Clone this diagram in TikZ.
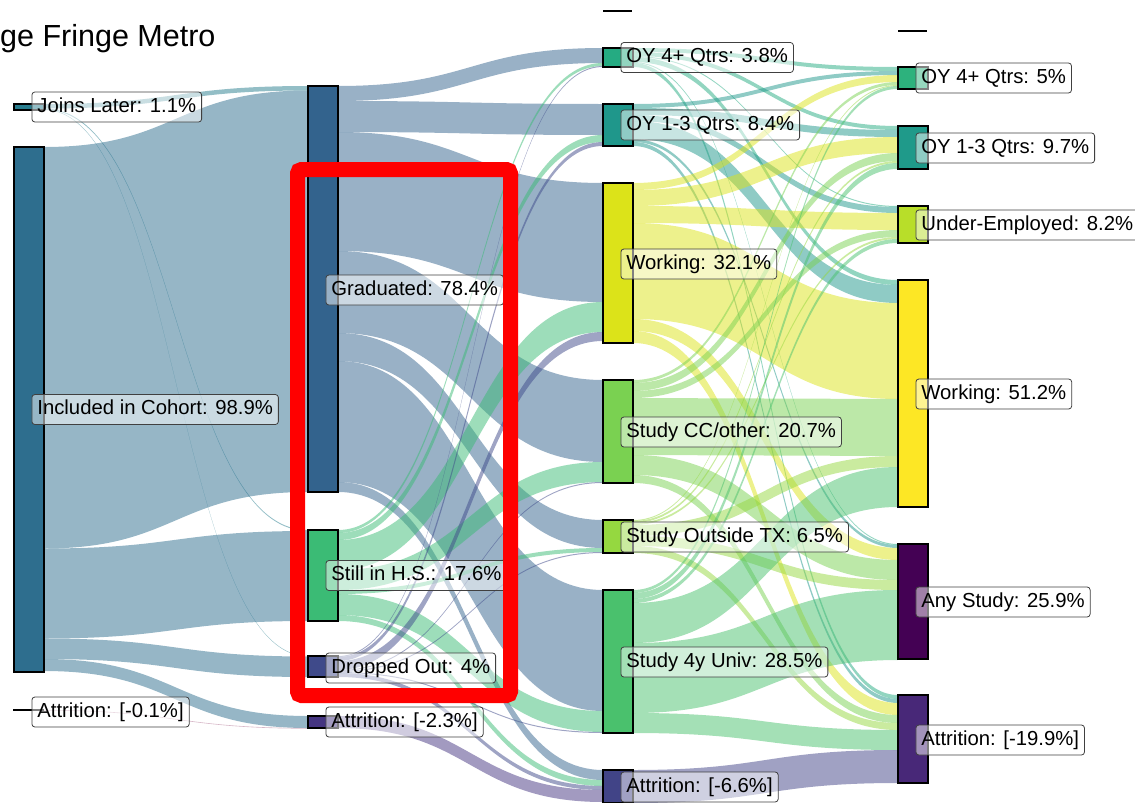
\documentclass[tikz,border=0pt]{standalone}
\usepackage{fontspec}
\setmainfont{Liberation Sans}
\definecolor{cJL}{HTML}{287D8E}
\definecolor{cINC}{HTML}{2E6E8E}
\definecolor{cGR}{HTML}{33638D}
\definecolor{cHS}{HTML}{3BBB75}
\definecolor{cDO}{HTML}{3F4A8A}
\definecolor{cATb}{HTML}{453581}
\definecolor{cOYa}{HTML}{25AB82}
\definecolor{cOYb}{HTML}{1F978B}
\definecolor{cWK}{HTML}{DCE319}
\definecolor{cCC}{HTML}{7AD151}
\definecolor{cOT}{HTML}{95D840}
\definecolor{cUV}{HTML}{4AC16D}
\definecolor{cATc}{HTML}{414487}
\definecolor{cOYc}{HTML}{2DB27D}
\definecolor{cOYd}{HTML}{1F9A8A}
\definecolor{cUE}{HTML}{B8DE29}
\definecolor{cWKd}{HTML}{FDE725}
\definecolor{cAS}{HTML}{440154}
\definecolor{cATd}{HTML}{482878}
\definecolor{cATa}{HTML}{B07090}
\newcommand\setnd[3]{%
  \expandafter\xdef\csname X#1\endcsname{#2}%
  \expandafter\xdef\csname O#1\endcsname{#3}%
  \expandafter\xdef\csname I#1\endcsname{#3}}
\newcommand\flw[4]{%
  \expandafter\let\expandafter\fya\csname O#1\endcsname
  \expandafter\let\expandafter\fyb\csname I#2\endcsname
  \expandafter\let\expandafter\fxa\csname X#1\endcsname
  \expandafter\let\expandafter\fxb\csname X#2\endcsname
  \pgfmathsetmacro\fxa{\fxa+30}%
  \pgfmathsetmacro\fxm{(\fxa+\fxb)/2}%
  \pgfmathsetmacro\fyc{\fya+#3}%
  \pgfmathsetmacro\fyd{\fyb+#3}%
  \fill[fill=#4, fill opacity=0.5] (\fxa,\fya) .. controls (\fxm,\fya) and (\fxm,\fyb) .. (\fxb,\fyb) -- (\fxb,\fyd) .. controls (\fxm,\fyd) and (\fxm,\fyc) .. (\fxa,\fyc) -- cycle;
  \expandafter\xdef\csname O#1\endcsname{\fyc}%
  \expandafter\xdef\csname I#2\endcsname{\fyd}}
\begin{document}
\begin{tikzpicture}[x=1pt,y=-1pt,
  bar/.style={draw=black, line width=1.5pt, minimum width=30pt, inner sep=0pt, outer sep=0pt, anchor=north west},
  zbar/.style={draw=black, line width=2.5pt},
  lab/.style={draw=black!75, line width=0.8pt, fill=white, fill opacity=0.5, draw opacity=1, text opacity=1, rounded corners=3pt,
    font=\fontsize{20.3}{21}\selectfont, text height=15pt, text depth=4.5pt, minimum height=30pt, inner xsep=5.5pt, inner ysep=0pt, anchor=west},
  hilite/.style={draw=red, line width=15pt, rounded corners=4pt}]
\useasboundingbox (0,0) rectangle (1135,803);
% node geometry
\setnd{JL}{14}{104}\setnd{INC}{14}{147}\setnd{ATa}{14}{710}
\setnd{GR}{308}{86}\setnd{HS}{308}{530}\setnd{DO}{308}{656}\setnd{ATb}{308}{716}
\setnd{OYa}{603}{48}\setnd{OYb}{603}{104}\setnd{WK}{603}{183}\setnd{CC}{603}{380}
\setnd{OT}{603}{520}\setnd{UV}{603}{590}\setnd{ATc}{603}{770}
\setnd{OYc}{898}{67}\setnd{OYd}{898}{126}\setnd{UE}{898}{206}\setnd{WKd}{898}{280}
\setnd{AS}{898}{544}\setnd{ATd}{898}{695}
% flows column 1 -> 2
\flw{JL}{GR}{4.5}{cJL}\flw{JL}{HS}{1}{cJL}\flw{JL}{DO}{0.5}{cJL}
\flw{INC}{GR}{401.5}{cINC}\flw{INC}{HS}{90}{cINC}\flw{INC}{DO}{20.5}{cINC}\flw{INC}{ATb}{12}{cINC}
\flw{ATa}{ATb}{0.6}{cATa}
% flows column 2 -> 3
\flw{GR}{OYa}{15}{cGR}\flw{GR}{OYb}{31}{cGR}\flw{GR}{WK}{119}{cGR}\flw{GR}{CC}{82}{cGR}
\flw{GR}{OT}{28}{cGR}\flw{GR}{UV}{121}{cGR}\flw{GR}{ATc}{10}{cGR}
\flw{HS}{OYa}{3}{cHS}\flw{HS}{OYb}{7}{cHS}\flw{HS}{WK}{30}{cHS}\flw{HS}{CC}{20}{cHS}
\flw{HS}{OT}{4}{cHS}\flw{HS}{UV}{21}{cHS}\flw{HS}{ATc}{6}{cHS}
\flw{DO}{OYa}{1}{cDO}\flw{DO}{OYb}{4}{cDO}\flw{DO}{WK}{9}{cDO}\flw{DO}{CC}{1}{cDO}
\flw{DO}{OT}{1}{cDO}\flw{DO}{UV}{1}{cDO}\flw{DO}{ATc}{4}{cDO}
\flw{ATb}{ATc}{12}{cATb}
% flows column 3 -> 4
\flw{OYa}{OYc}{4}{cOYa}\flw{OYa}{OYd}{4}{cOYa}\flw{OYa}{UE}{1}{cOYa}\flw{OYa}{WKd}{5}{cOYa}\flw{OYa}{AS}{1}{cOYa}\flw{OYa}{ATd}{4}{cOYa}
\flw{OYb}{OYc}{4}{cOYb}\flw{OYb}{OYd}{7}{cOYb}\flw{OYb}{UE}{6}{cOYb}\flw{OYb}{WKd}{18}{cOYb}\flw{OYb}{AS}{3}{cOYb}\flw{OYb}{ATd}{4}{cOYb}
\flw{WK}{OYc}{7}{cWK}\flw{WK}{OYd}{16}{cWK}\flw{WK}{UE}{17}{cWK}\flw{WK}{WKd}{96}{cWK}\flw{WK}{AS}{12}{cWK}\flw{WK}{ATd}{12}{cWK}
\flw{CC}{OYc}{3}{cCC}\flw{CC}{OYd}{8}{cCC}\flw{CC}{UE}{7}{cCC}\flw{CC}{WKd}{57}{cCC}\flw{CC}{AS}{20}{cCC}\flw{CC}{ATd}{8}{cCC}
\flw{OT}{OYc}{1}{cOT}\flw{OT}{OYd}{2}{cOT}\flw{OT}{UE}{2}{cOT}\flw{OT}{WKd}{11}{cOT}\flw{OT}{AS}{10}{cOT}\flw{OT}{ATd}{7}{cOT}
\flw{UV}{OYc}{3}{cUV}\flw{UV}{OYd}{6}{cUV}\flw{UV}{UE}{4}{cUV}\flw{UV}{WKd}{40}{cUV}\flw{UV}{AS}{70}{cUV}\flw{UV}{ATd}{20}{cUV}
\flw{ATc}{ATd}{33}{cATc}
% bars
\node[bar, fill=cJL, minimum height=6pt] (JL) at (14,104) {};
\node[bar, fill=cINC, minimum height=525pt] (INC) at (14,147) {};
\draw[zbar] (13,710) -- (44,710) coordinate (ATa);
\node[bar, fill=cGR, minimum height=406pt] (GR) at (308,86) {};
\node[bar, fill=cHS, minimum height=91pt] (HS) at (308,530) {};
\node[bar, fill=cDO, minimum height=21pt] (DO) at (308,656) {};
\node[bar, fill=cATb, minimum height=12pt] (ATb) at (308,716) {};
\draw[zbar] (603,11) -- (632,11) coordinate (Zc);
\node[bar, fill=cOYa, minimum height=19pt] (OYa) at (603,48) {};
\node[bar, fill=cOYb, minimum height=42pt] (OYb) at (603,104) {};
\node[bar, fill=cWK, minimum height=160pt] (WK) at (603,183) {};
\node[bar, fill=cCC, minimum height=103pt] (CC) at (603,380) {};
\node[bar, fill=cOT, minimum height=33pt] (OT) at (603,520) {};
\node[bar, fill=cUV, minimum height=143pt] (UV) at (603,590) {};
\node[bar, fill=cATc, minimum height=33pt] (ATc) at (603,770) {};
\draw[zbar] (898,31) -- (927,31) coordinate (Zd);
\node[bar, fill=cOYc, minimum height=22pt] (OYc) at (898,67) {};
\node[bar, fill=cOYd, minimum height=43pt] (OYd) at (898,126) {};
\node[bar, fill=cUE, minimum height=37pt] (UE) at (898,206) {};
\node[bar, fill=cWKd, minimum height=227pt] (WKd) at (898,280) {};
\node[bar, fill=cAS, minimum height=115pt] (AS) at (898,544) {};
\node[bar, fill=cATd, minimum height=88pt] (ATd) at (898,695) {};
% labels
\node[lab] (lJL) at (31.5,107) {Joins Later: 1.1\%};
\node[lab] (lINC) at (31.5,409.5) {Included in Cohort: 98.9\%};
\node[lab] (lATa) at (31.5,712) {Attrition: [-0.1\%]};
\node[lab] (lGR) at (325.5,290) {Graduated: 78.4\%};
\node[lab] (lHS) at (325.5,575.5) {Still in H.S.: 17.6\%};
\node[lab] (lDO) at (325.5,668) {Dropped Out: 4\%};
\node[lab] (lATb) at (325.5,722) {Attrition: [-2.3\%]};
\node[lab] (lOYa) at (620.5,57.5) {OY 4+ Qtrs: 3.8\%};
\node[lab] (lOYb) at (620.5,125) {OY 1-3 Qtrs: 8.4\%};
\node[lab] (lWK) at (620.5,264) {Working: 32.1\%};
\node[lab] (lCC) at (620.5,432) {Study CC/other: 20.7\%};
\node[lab] (lOT) at (620.5,537) {Study Outside TX: 6.5\%};
\node[lab] (lUV) at (620.5,662) {Study 4y Univ: 28.5\%};
\node[lab] (lATc) at (620.5,787) {Attrition: [-6.6\%]};
\node[lab] (lOYc) at (915.5,78) {OY 4+ Qtrs: 5\%};
\node[lab] (lOYd) at (915.5,148) {OY 1-3 Qtrs: 9.7\%};
\node[lab] (lUE) at (915.5,225) {Under-Employed: 8.2\%};
\node[lab] (lWKd) at (915.5,394) {Working: 51.2\%};
\node[lab] (lAS) at (915.5,602) {Any Study: 25.9\%};
\node[lab] (lATd) at (915.5,740) {Attrition: [-19.9\%]};
% title
\node[anchor=base west, inner sep=0pt, font=\fontsize{30.5}{34}\selectfont] (title) at (0,46) {ge Fringe Metro};
% highlight
\draw[hilite] (297.5,169.5) rectangle (510.5,695.5);
\end{tikzpicture}
\end{document}
